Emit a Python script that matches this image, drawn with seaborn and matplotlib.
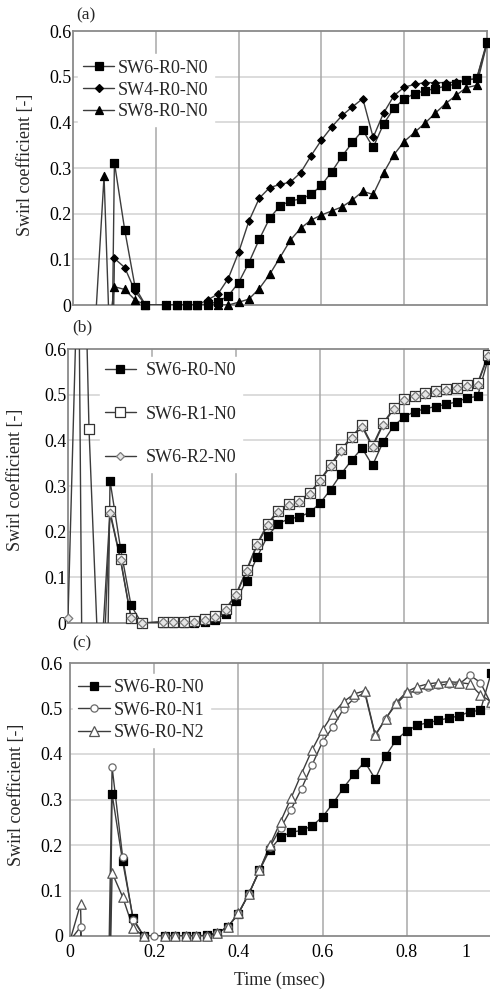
import matplotlib
matplotlib.use("Agg")
import matplotlib.pyplot as plt
import matplotlib.transforms as mtransforms
from matplotlib.lines import Line2D
import numpy as np
import pandas as pd
import seaborn as sns

# ---------------------------------------------------------------- data
# common time base (msec) for the main part of every curve
TIME = [0.225, 0.25, 0.275, 0.3, 0.325, 0.35, 0.375, 0.4, 0.425, 0.45, 0.475,
        0.5, 0.525, 0.55, 0.575, 0.6, 0.625, 0.65, 0.675, 0.7, 0.725, 0.75,
        0.775, 0.8, 0.825, 0.85, 0.875, 0.9, 0.925, 0.95, 0.975, 1.0]

# SW6-R0-N0 (reference case, shown in all three panels)
SW6_R0_N0_T0 = [0.075, 0.1, 0.125, 0.15, 0.175]
SW6_R0_N0_V0 = [-1.5, 0.312, 0.164, 0.039, 0.0]
SW6_R0_N0 = [0.0, 0.0, 0.0, 0.0, 0.002, 0.007, 0.02, 0.049, 0.093, 0.144, 0.19,
             0.217, 0.228, 0.232, 0.242, 0.262, 0.292, 0.326, 0.356, 0.383, 0.345,
             0.396, 0.431, 0.451, 0.463, 0.469, 0.474, 0.479, 0.484, 0.493, 0.496,
             0.577]

# (a) swirl number
SW4_R0_N0_T0 = [0.075, 0.1, 0.125, 0.15, 0.175]
SW4_R0_N0_V0 = [-1.5, 0.102, 0.082, 0.03, 0.0]
SW4_R0_N0 = [0.0, 0.0, 0.0, 0.0, 0.011, 0.024, 0.058, 0.115, 0.184, 0.234, 0.257,
             0.264, 0.269, 0.29, 0.327, 0.361, 0.39, 0.415, 0.434, 0.452, 0.367,
             0.42, 0.458, 0.477, 0.483, 0.487, 0.487, 0.487, 0.488, 0.493, 0.495,
             0.573]

SW8_R0_N0_T0 = [0.05, 0.075, 0.0875, 0.1, 0.125, 0.15, 0.175]
SW8_R0_N0_V0 = [-0.1, 0.282, -0.05, 0.04, 0.034, 0.011, 0.0]
SW8_R0_N0 = [0.0, 0.0, 0.0, 0.0, 0.0, 0.0, 0.0, 0.006, 0.013, 0.036, 0.067,
             0.104, 0.142, 0.168, 0.186, 0.197, 0.206, 0.215, 0.23, 0.249, 0.242,
             0.289, 0.329, 0.358, 0.378, 0.398, 0.42, 0.441, 0.459, 0.476, 0.481,
             0.573]

# (b) R variants
SW6_R1_N0_T0 = [0.025, 0.05, 0.075, 0.1, 0.125, 0.15, 0.175]
SW6_R1_N0_V0 = [1.4, 0.425, -0.15, 0.245, 0.14, 0.012, 0.0]
SW6_R1_N0 = [0.003, 0.003, 0.003, 0.004, 0.008, 0.015, 0.03, 0.063, 0.116, 0.173,
             0.217, 0.246, 0.26, 0.268, 0.284, 0.313, 0.346, 0.38, 0.408, 0.433,
             0.388, 0.437, 0.47, 0.49, 0.498, 0.503, 0.508, 0.512, 0.515, 0.522,
             0.525, 0.587]

SW6_R2_N0_T0 = [0.0, 0.025, 0.05, 0.075, 0.1, 0.125, 0.15, 0.175]
SW6_R2_N0_V0 = [0.012, 0.85, -2.0, -0.3, 0.24, 0.138, 0.01, 0.0]
SW6_R2_N0 = [0.002, 0.002, 0.002, 0.003, 0.007, 0.014, 0.029, 0.061, 0.113, 0.17,
             0.214, 0.244, 0.258, 0.266, 0.282, 0.311, 0.343, 0.377, 0.405, 0.43,
             0.385, 0.434, 0.468, 0.488, 0.497, 0.502, 0.506, 0.51, 0.514, 0.519,
             0.522, 0.584]

# (c) N variants
SW6_R0_N1_T0 = [0.0, 0.025, 0.05, 0.075, 0.1, 0.125, 0.15, 0.175, 0.2]
SW6_R0_N1_V0 = [-0.01, 0.02, -1.0, -1.0, 0.371, 0.174, 0.035, 0.0, 0.0]
SW6_R0_N1 = [0.0, 0.0, 0.0, 0.0, 0.0, 0.007, 0.02, 0.05, 0.093, 0.144, 0.196,
             0.237, 0.278, 0.324, 0.376, 0.427, 0.46, 0.5, 0.522, 0.535, 0.44,
             0.478, 0.51, 0.533, 0.54, 0.547, 0.552, 0.553, 0.554, 0.573, 0.557,
             0.51]

SW6_R0_N2_T0 = [0.0, 0.025, 0.05, 0.075, 0.1, 0.125, 0.15, 0.175]
SW6_R0_N2_V0 = [-0.01, 0.07, -1.0, -1.0, 0.139, 0.086, 0.017, 0.0]
SW6_R0_N2 = [0.0, 0.0, 0.0, 0.0, 0.0, 0.007, 0.02, 0.05, 0.093, 0.144, 0.2,
             0.251, 0.303, 0.357, 0.409, 0.453, 0.489, 0.515, 0.532, 0.539, 0.442,
             0.478, 0.513, 0.537, 0.548, 0.554, 0.557, 0.559, 0.557, 0.554, 0.53,
             0.515]

Y_TICKS = [0, 0.1, 0.2, 0.3, 0.4, 0.5, 0.6]
Y_TICK_LABELS = ["0", "0.1", "0.2", "0.3", "0.4", "0.5", "0.6"]
X_TICKS = [0, 0.2, 0.4, 0.6, 0.8, 1.0]
X_TICK_LABELS = ["0", "0.2", "0.4", "0.6", "0.8", "1"]

# ---------------------------------------------------------------- style
sns.set_theme(style="whitegrid")
plt.rcParams["font.family"] = ["Liberation Serif", "DejaVu Serif"]
FS = 13
LINE_C = "#3c3c3c"
W, H = 490, 994

fig = plt.figure(figsize=(W / 100, H / 100), dpi=100)


def px_axes(left, right, top, bottom):
    return fig.add_axes([left / W, 1 - bottom / H, (right - left) / W, (bottom - top) / H])


def series(ax, t0, v0, vals, marker, ms, face, edge, label):
    t = np.array(list(t0) + TIME, dtype=float)
    v = np.array(list(v0) + list(vals), dtype=float)
    df = pd.DataFrame({"t": t, "v": v})
    sns.lineplot(data=df, x="t", y="v", ax=ax, color=LINE_C, lw=1.0,
                 estimator=None, sort=False, legend=False, zorder=3)
    inside = df[(df.v >= 0) & (df.v <= 0.6)]
    sns.scatterplot(data=inside, x="t", y="v", ax=ax, marker=marker, s=ms ** 2,
                    color=face, edgecolor=edge, linewidth=0.9, legend=False,
                    clip_on=False, zorder=4)
    return Line2D([], [], color=LINE_C, lw=1.0, marker=marker, markersize=ms,
                  markerfacecolor=face, markeredgecolor=edge, markeredgewidth=0.9,
                  label=label)


def style_axes(ax, ypad, show_x):
    ax.set_xlim(0, 1.0)
    ax.set_ylim(0, 0.6)
    ax.set_yticks(Y_TICKS)
    ax.set_yticklabels(Y_TICK_LABELS)
    ax.set_xticks(X_TICKS)
    if show_x:
        ax.set_xticklabels(X_TICK_LABELS)
    else:
        ax.set_xticklabels([])
    ax.tick_params(axis="both", length=0, labelsize=FS, colors="black")
    ax.tick_params(axis="y", pad=ypad)
    ax.tick_params(axis="x", pad=6)
    ax.grid(False)
    for yv in Y_TICKS[1:-1]:
        ax.axhline(yv, color="#d2d2d2", lw=1.1, zorder=1)
    for xv in X_TICKS[1:-1]:
        ax.axvline(xv, color="#a8a8a8", lw=1.1, zorder=1)
    for s in ax.spines.values():
        s.set_color("#8a8a8a")
        s.set_linewidth(1.3)
    ax.set_xlabel("")
    ax.set_ylabel("")


def ylabel(ax, xpx, ypx):
    ax.set_ylabel("Swirl coefficient [-]", fontsize=FS)
    ax.yaxis.set_label_coords(xpx / W, 1 - ypx / H, transform=fig.transFigure)


def legend(ax, handles, anchor, spacing, hlen, hpad):
    ax.legend(handles=handles, loc="upper left", bbox_to_anchor=anchor, fontsize=FS,
              frameon=True, facecolor="white", edgecolor="white", framealpha=1,
              fancybox=False, borderpad=0.3, borderaxespad=0, labelspacing=spacing,
              handlelength=hlen, handletextpad=hpad)


# ---------------------------------------------------------------- (a)
ax_a = px_axes(73, 487, 31, 305)
h = [
    series(ax_a, SW6_R0_N0_T0, SW6_R0_N0_V0, SW6_R0_N0, "s", 6.0, "black", "black", "SW6-R0-N0"),
    series(ax_a, SW4_R0_N0_T0, SW4_R0_N0_V0, SW4_R0_N0, "D", 3.8, "black", "black", "SW4-R0-N0"),
    series(ax_a, SW8_R0_N0_T0, SW8_R0_N0_V0, SW8_R0_N0, "^", 5.8, "black", "black", "SW8-R0-N0"),
]
style_axes(ax_a, 1, False)
ylabel(ax_a, 34, 165)
legend(ax_a, h, (0.012, 0.915), 0.27, 1.7, 0.2)
fig.text(76 / W, 1 - 15 / H, "(a)", fontsize=12.5, va="center", ha="left")

# ---------------------------------------------------------------- (b)
ax_b = px_axes(68, 488, 349, 623)
h = [
    series(ax_b, SW6_R0_N0_T0, SW6_R0_N0_V0, SW6_R0_N0, "s", 6.0, "black", "black", "SW6-R0-N0"),
    series(ax_b, SW6_R1_N0_T0, SW6_R1_N0_V0, SW6_R1_N0, "s", 6.8, "white", "#333333", "SW6-R1-N0"),
    series(ax_b, SW6_R2_N0_T0, SW6_R2_N0_V0, SW6_R2_N0, "D", 4.4, "#e6e6e6", "#7a7a7a", "SW6-R2-N0"),
]
style_axes(ax_b, 1, False)
ylabel(ax_b, 24, 480)
legend(ax_b, h, (0.075, 0.972), 1.47, 1.7, 0.55)
fig.text(72 / W, 1 - 327 / H, "(b)", fontsize=12.5, va="center", ha="left")

# ---------------------------------------------------------------- (c)
ax_c = px_axes(70, 491, 663, 936)
h = [
    series(ax_c, SW6_R0_N0_T0, SW6_R0_N0_V0, SW6_R0_N0, "s", 6.0, "black", "black", "SW6-R0-N0"),
    series(ax_c, SW6_R0_N1_T0, SW6_R0_N1_V0, SW6_R0_N1, "o", 5.2, "white", "#6a6a6a", "SW6-R0-N1"),
    series(ax_c, SW6_R0_N2_T0, SW6_R0_N2_V0, SW6_R0_N2, "^", 6.8, "white", "#555555", "SW6-R0-N2"),
]
style_axes(ax_c, 5, True)
ylabel(ax_c, 25, 795)
legend(ax_c, h, (0.006, 0.96), 0.3, 1.8, 0.2)
ax_c.set_xlabel("Time (msec)", fontsize=FS)
ax_c.xaxis.set_label_coords(280 / W, 1 - 972 / H, transform=fig.transFigure)
# keep the last tick label inside the figure
last = ax_c.get_xticklabels()[-1]
last.set_transform(last.get_transform() + mtransforms.ScaledTranslation(-25 / 100, 0, fig.dpi_scale_trans))
fig.text(72 / W, 1 - 643 / H, "(c)", fontsize=12.5, va="center", ha="left")

fig.savefig("out.png", dpi=100)
